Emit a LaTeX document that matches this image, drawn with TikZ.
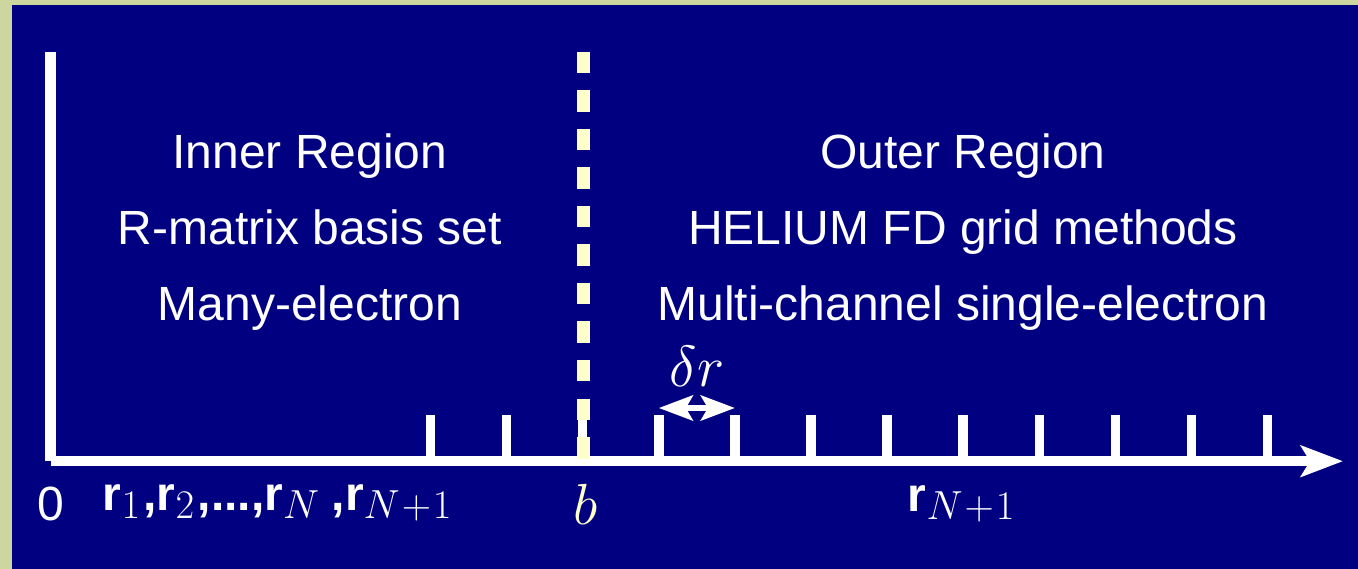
\RequirePackage{fix-cm}
\documentclass[tikz,border=0pt]{standalone}
\usepackage[no-math]{fontspec}
\setmainfont{Liberation Sans}
\usetikzlibrary{arrows.meta}

\definecolor{frame}{HTML}{CED6A0}
\definecolor{navy}{HTML}{000080}
\definecolor{paleyellow}{HTML}{FFFFCC}

\tikzset{
  axisline/.style={white, line width=10.5pt, line cap=butt},
  tickmark/.style={white, line width=9.5pt, line cap=butt},
  boundary/.style={paleyellow, line width=13pt, line cap=butt, dash pattern=on 21.5pt off 17pt},
  regiontext/.style={white, anchor=base, inner sep=0pt, font=\fontsize{48}{58}\selectfont},
  axislabel/.style={white, anchor=base, inner sep=0pt, font=\fontsize{58}{68}\selectfont},
  steparrow/.style={white, line width=6pt, {Stealth[length=34pt,width=25pt,inset=7pt]}-{Stealth[length=34pt,width=25pt,inset=7pt]}}
}
% bold sans position vector and separators at text size
\newcommand{\rvec}{{\fontsize{48}{58}\selectfont\bfseries r}}
\newcommand{\rsep}[1]{{\fontsize{48}{58}\selectfont\bfseries #1}}
\newcommand{\Nplus}{N\kern2pt+\kern2pt1}

\begin{document}
\begin{tikzpicture}[x=1pt, y=-1pt]
  % page: light frame on the left and top, navy panel
  \useasboundingbox (0,0) rectangle (1358,569);
  \fill[frame] (0,0) rectangle (1358,569);
  \fill[navy] (12,5) rectangle (1358,569);

  % axes
  \coordinate (top) at (50.7,52);
  \coordinate (origin) at (50.7,461.2);
  \coordinate (tip) at (1343,461.2);
  \draw[axisline] (top) -- (origin);
  \draw[axisline, -{Stealth[length=42pt,width=31pt,inset=9pt]}] (origin) -- (tip);

  % grid ticks
  \foreach \k in {0,...,11} {
    \coordinate (t\k) at ({430.5+76.1*\k},461.2);
    \coordinate (u\k) at ({430.5+76.1*\k},415);
    \draw[tickmark] (t\k) -- (u\k);
  }

  % boundary between inner and outer region
  \coordinate (bt) at (583.3,52);
  \coordinate (bb) at (583.3,461.7);
  \draw[boundary] (bt) -- (bb);

  % grid spacing
  \coordinate (d1) at (658.8,408);
  \coordinate (d2) at (734.9,408);
  \draw[steparrow] (d1) -- (d2);
  \node[axislabel] (dr) at (697,387) {$\delta r$};

  % region descriptions
  \node[regiontext] (in1) at (310,169) {Inner Region};
  \node[regiontext] (in2) at (310,245) {R-matrix basis set};
  \node[regiontext] (in3) at (310,321) {Many-electron};
  \node[regiontext] (out1) at (963,169) {Outer Region};
  \node[regiontext] (out2) at (963,245) {HELIUM FD grid methods};
  \node[regiontext] (out3) at (963,321) {Multi-channel single-electron};

  % axis labels
  \node[regiontext] (zero) at (50.5,520) {0};
  \node[axislabel] (inner) at (277.5,510)
    {\rvec$_1$\kern3pt\rsep{,}\rvec$_2$\kern3pt\rsep{,...,}\rvec$_N$\kern12pt\rsep{,}\rvec$_{\Nplus}$};
  \node[axislabel, text=paleyellow] (bl) at (586,524) {$b$};
  \node[axislabel] (outer) at (961.5,511) {\rvec$_{\Nplus}$};
\end{tikzpicture}
\end{document}
